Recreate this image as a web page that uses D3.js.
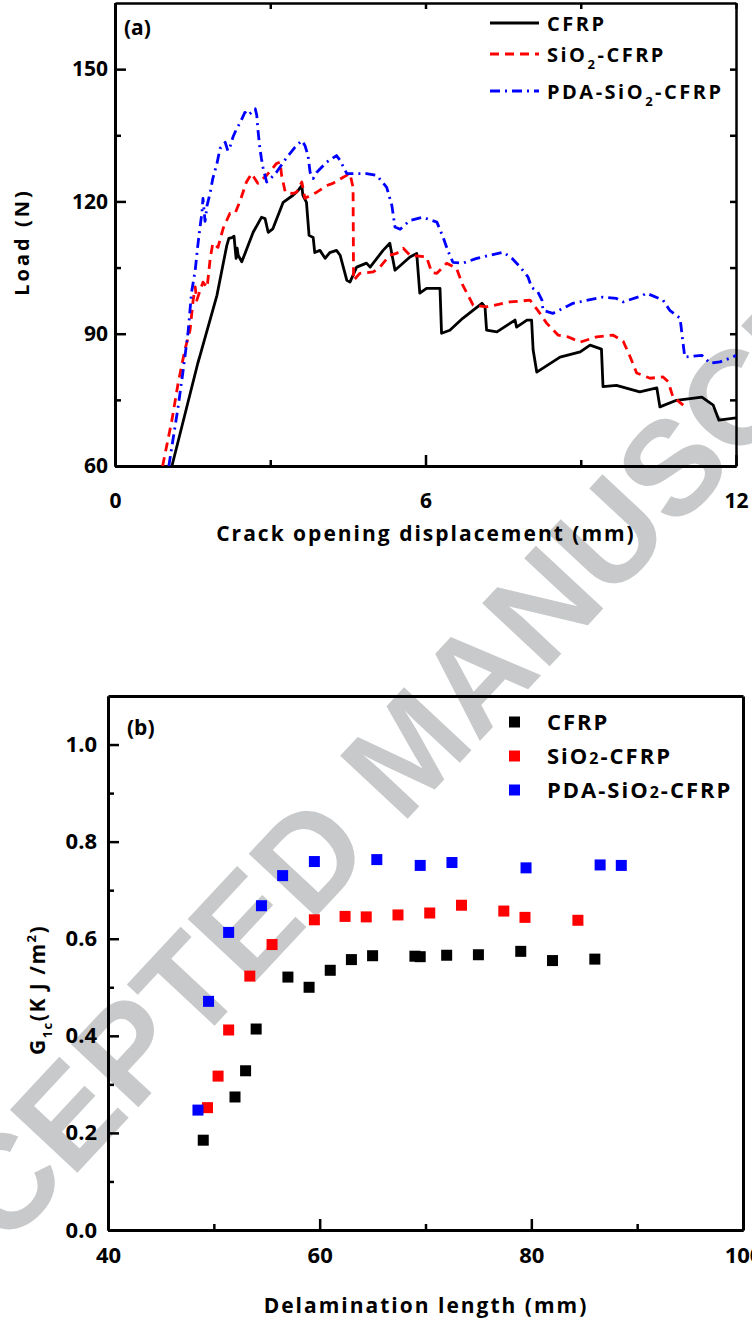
<!DOCTYPE html>
<html>
<head>
<meta charset="utf-8">
<script src="https://cdn.jsdelivr.net/npm/d3@7"></script>
<style>
  body { margin: 0; background: #fff; }
  svg text { font-family: "Open Sans", sans-serif; font-weight: bold; }
</style>
</head>
<body>
<svg id="chart" width="752" height="1321"></svg>
<script>
// ---- panel (a): load vs crack opening displacement ----
const cfrpX = [1.10,1.60,1.64,1.97,2.16,2.20,2.26,2.30,2.34,2.36,2.38,2.45,2.67,2.83,2.90,2.96,3.05,3.25,3.44,3.54,3.61,3.63,3.70,3.75,3.83,3.86,3.96,4.06,4.15,4.28,4.35,4.48,4.54,4.67,4.86,4.93,5.18,5.31,5.41,5.70,5.83,5.89,6.02,6.28,6.31,6.47,6.72,7.09,7.15,7.18,7.38,7.73,7.76,7.96,8.05,8.08,8.15,8.60,8.99,9.18,9.40,9.43,9.69,10.14,10.47,10.53,10.85,11.34,11.56,11.67,12.0];
const cfrpY = [60,83.3,84.9,98.7,110.0,111.6,111.8,112.1,107.1,109.4,107.8,106.3,113.0,116.4,116.1,113.0,113.8,119.8,121.4,122.5,123.6,121.4,119.8,112.3,111.8,108.4,108.9,107.1,108.4,108.9,107.8,102.1,101.7,105.1,106.0,105.1,108.9,110.5,104.4,107.4,108.2,99.2,100.3,100.3,90.1,90.8,93.5,96.9,96.1,90.8,90.4,93.1,91.5,93.1,93.1,86.3,81.3,84.7,85.9,87.4,86.5,78.0,78.3,76.8,77.7,73.4,74.9,75.6,73.8,70.4,70.9];

const sio2X = [0.92,1.10,1.22,1.35,1.45,1.51,1.55,1.58,1.70,1.78,1.84,1.89,1.99,2.09,2.22,2.32,2.42,2.54,2.64,2.76,2.93,3.12,3.19,3.22,3.29,3.44,3.51,3.61,3.67,3.90,4.09,4.21,4.41,4.54,4.60,4.61,4.73,4.99,5.12,5.31,5.44,5.57,5.70,6.02,6.12,6.22,6.41,6.60,6.72,6.92,7.18,7.63,8.02,8.17,8.34,8.56,8.75,8.99,9.31,9.62,9.82,9.95,10.08,10.34,10.59,10.69,10.78,10.98];
const sio2Y = [60,70.4,78.8,86.3,90.8,97.6,100.6,97.6,101.7,100.5,107.1,110.5,109.6,113.9,117.3,117.3,120.2,124.4,126.3,124.1,125.9,128.6,128.9,125.9,122.1,121.8,122.1,124.4,120.7,122.1,123.6,124.1,125.5,126.3,123.2,102.1,103.7,104.0,105.1,107.8,108.2,109.4,107.8,107.4,103.9,103.7,106.0,104.8,101.0,96.5,96.1,97.2,97.6,95.3,92.4,89.7,89.3,88.1,89.3,89.7,88.3,84.9,81.1,79.9,80.2,79.1,75.7,73.8];

const pdaX = [1.04,1.22,1.31,1.41,1.48,1.55,1.60,1.64,1.68,1.70,1.74,1.78,1.84,1.89,1.97,2.03,2.13,2.18,2.22,2.28,2.35,2.42,2.51,2.57,2.71,2.74,2.76,2.80,2.83,2.86,2.93,3.03,3.12,3.19,3.32,3.48,3.61,3.67,3.73,3.77,3.83,3.90,4.09,4.28,4.35,4.48,4.60,4.86,5.06,5.25,5.35,5.41,5.51,5.70,5.95,6.22,6.34,6.43,6.53,6.72,6.99,7.25,7.50,7.67,7.83,7.98,8.05,8.17,8.25,8.27,8.46,8.85,9.43,9.69,9.82,10.20,10.27,10.59,10.72,10.92,10.97,11.01,11.34,11.50,11.69,11.94,12.0];
const pdaY = [60,73.4,81.1,90.1,99.4,104.4,110.0,113.9,117.5,120.7,115.5,119.1,122.0,125.2,128.6,132.0,133.4,131.5,132.3,134.6,136.5,137.9,140.2,139.5,141.0,139.5,136.5,132.0,129.7,127.7,124.4,125.5,126.6,127.8,130.0,132.3,133.8,132.7,130.4,126.6,125.2,126.6,128.9,130.4,129.3,126.3,126.3,126.3,125.9,123.2,119.1,114.2,113.7,115.7,116.4,115.3,111.9,108.9,106.2,106.0,107.1,107.8,108.5,107.1,105.1,102.9,100.5,99.5,97.6,95.3,94.6,96.9,98.3,98.0,97.2,98.7,99.2,97.6,95.3,93.5,88.5,84.7,85.1,83.3,83.6,84.7,85.1];

const codTicks = [0, 6, 12];
const codMinor = [3, 9];
const loadTicks = [60, 90, 120, 150];
const loadMinor = [75, 105, 135];

// ---- panel (b): G1c vs delamination length ----
const cfrpLen = [49.0,52.0,53.0,54.0,57.0,59.0,61.0,63.0,65.0,69.0,69.5,72.0,75.0,79.0,82.0,86.0];
const cfrpG = [0.185,0.274,0.328,0.414,0.521,0.500,0.535,0.557,0.565,0.564,0.563,0.566,0.567,0.574,0.555,0.558];
const sio2Len = [49.4,50.4,51.4,53.4,55.5,59.5,62.4,64.4,67.4,70.4,73.4,77.4,79.4,84.4];
const sio2G = [0.252,0.317,0.412,0.523,0.588,0.639,0.646,0.645,0.649,0.653,0.669,0.657,0.644,0.638];
const pdaLen = [48.5,49.5,51.4,54.5,56.5,59.5,65.4,69.5,72.5,79.5,86.5,88.5];
const pdaG = [0.247,0.471,0.613,0.668,0.730,0.759,0.763,0.751,0.757,0.746,0.752,0.751];

const lenTicks = [40, 60, 80, 100];
const lenMinor = [50, 70, 90];
const gTicks = [0, 0.2, 0.4, 0.6, 0.8, 1.0];
const gMinor = [0.1, 0.3, 0.5, 0.7, 0.9];

const names = ["CFRP", "SiO2-CFRP", "PDA-SiO2-CFRP"];
const colors = ["#000000", "#ff0000", "#0000ff"];

var svg = d3.select("#chart");

// watermark behind everything
svg.append("text")
  .attr("transform", "translate(408,750) rotate(-47)")
  .attr("text-anchor", "middle")
  .attr("dominant-baseline", "central")
  .style("font-family", "'Liberation Sans', Arial, sans-serif")
  .attr("font-size", "134px")
  .attr("fill", "#c8c9ca")
  .text("ACCEPTED MANUSCRIPT");

// small helper to style an axis group
function styleAxis(g, width, fontSize) {
  g.attr("font-size", null).attr("font-family", null);
  g.select(".domain").attr("stroke", "#000").attr("stroke-width", width);
  g.selectAll(".tick line").attr("stroke", "#000").attr("stroke-width", 2.5);
  g.selectAll(".tick text").attr("fill", "#000").attr("font-size", fontSize);
}

// ================= panel (a) =================
const aLeft = 115, aRight = 736, aTop = 3, aBottom = 466;
var xA = d3.scaleLinear().domain([0, 12]).range([aLeft, aRight]);
var yA = d3.scaleLinear().domain([60, 165]).range([aBottom, aTop]);

var gA = svg.append("g");

// minor ticks first
gA.append("g").attr("transform", "translate(0," + aBottom + ")")
  .call(d3.axisBottom(xA).tickValues(codMinor).tickSize(-6).tickSizeOuter(0).tickFormat(""))
  .call(styleAxis, 3, "21px");
gA.append("g").attr("transform", "translate(" + aLeft + ",0)")
  .call(d3.axisLeft(yA).tickValues(loadMinor).tickSize(-6).tickSizeOuter(0).tickFormat(""))
  .call(styleAxis, 3, "21px");
gA.append("g").attr("transform", "translate(0," + aTop + ")")
  .call(d3.axisTop(xA).tickValues(codMinor.concat(codTicks)).tickSize(-6).tickSizeOuter(0).tickFormat(""))
  .call(styleAxis, 2.5, "21px");
gA.append("g").attr("transform", "translate(" + aRight + ",0)")
  .call(d3.axisRight(yA).tickValues(loadMinor.concat(loadTicks)).tickSize(-6).tickSizeOuter(0).tickFormat(""))
  .call(styleAxis, 2.5, "21px");

// major ticks with labels
gA.append("g").attr("transform", "translate(0," + aBottom + ")")
  .call(d3.axisBottom(xA).tickValues(codTicks).tickSize(-11).tickSizeOuter(0).tickPadding(27))
  .call(styleAxis, 3, "21px");
gA.append("g").attr("transform", "translate(" + aLeft + ",0)")
  .call(d3.axisLeft(yA).tickValues(loadTicks).tickSize(-11).tickSizeOuter(0).tickPadding(7))
  .call(styleAxis, 3, "21px");

// curves
var lineA = d3.line().x((d) => xA(d[0])).y((d) => yA(d[1]));
var curves = [d3.zip(cfrpX, cfrpY), d3.zip(sio2X, sio2Y), d3.zip(pdaX, pdaY)];
var dashes = [null, "9,6", "10,5,2,5"];

gA.selectAll(".curve")
  .data(curves)
  .enter()
  .append("path")
  .attr("class", "curve")
  .attr("d", lineA)
  .attr("fill", "none")
  .attr("stroke", (d, i) => colors[i])
  .attr("stroke-width", 2.8)
  .attr("stroke-dasharray", (d, i) => dashes[i])
  .attr("stroke-linejoin", "round");

// legend (a)
var legA = gA.append("g");
var legAY = [23, 54, 91];
legA.selectAll("line")
  .data(names)
  .enter()
  .append("line")
  .attr("x1", 490).attr("x2", 539)
  .attr("y1", (d, i) => legAY[i]).attr("y2", (d, i) => legAY[i])
  .attr("stroke", (d, i) => colors[i])
  .attr("stroke-width", 2.8)
  .attr("stroke-dasharray", (d, i) => dashes[i]);

legA.selectAll("text")
  .data(names)
  .enter()
  .append("text")
  .attr("x", 547)
  .attr("y", (d, i) => legAY[i] + 8)
  .attr("font-size", "20px")
  .attr("letter-spacing", "2.5px")
  .each(function (d) {
    var t = d3.select(this);
    var parts = d.split("2");
    if (parts.length == 1) { t.text(d); return; }
    t.append("tspan").text(parts[0]);
    t.append("tspan").attr("font-size", "13px").attr("dy", 7).text("2");
    t.append("tspan").attr("dy", -7).text(parts[1]);
  });

gA.append("text").attr("x", 124).attr("y", 35).attr("font-size", "21px").text("(a)");

gA.append("text")
  .attr("x", 426).attr("y", 541)
  .attr("text-anchor", "middle")
  .attr("font-size", "21px")
  .attr("letter-spacing", "2px")
  .text("Crack opening displacement (mm)");

gA.append("text")
  .attr("transform", "translate(29,242) rotate(-90)")
  .attr("text-anchor", "middle")
  .attr("font-size", "20px")
  .attr("letter-spacing", "3px")
  .text("Load (N)");

// ================= panel (b) =================
const bLeft = 108, bRight = 743, bTop = 696, bBottom = 1230;
var xB = d3.scaleLinear().domain([40, 100]).range([bLeft, bRight]);
var yB = d3.scaleLinear().domain([0, 1.1]).range([bBottom, bTop]);

var gB = svg.append("g");

gB.append("g").attr("transform", "translate(0," + bTop + ")")
  .call(d3.axisTop(xB).tickValues([]).tickSizeOuter(0))
  .call(styleAxis, 3, "22px");
gB.append("g").attr("transform", "translate(" + bRight + ",0)")
  .call(d3.axisRight(yB).tickValues([]).tickSizeOuter(0))
  .call(styleAxis, 3, "22px");
gB.append("g").attr("transform", "translate(0," + bBottom + ")")
  .call(d3.axisBottom(xB).tickValues(lenMinor).tickSize(-6).tickSizeOuter(0).tickFormat(""))
  .call(styleAxis, 3, "22px");
gB.append("g").attr("transform", "translate(" + bLeft + ",0)")
  .call(d3.axisLeft(yB).tickValues(gMinor).tickSize(-6).tickSizeOuter(0).tickFormat(""))
  .call(styleAxis, 3, "22px");
gB.append("g").attr("transform", "translate(0," + bBottom + ")")
  .call(d3.axisBottom(xB).tickValues(lenTicks).tickSize(-11).tickSizeOuter(0).tickPadding(17))
  .call(styleAxis, 3, "22px");
gB.append("g").attr("transform", "translate(" + bLeft + ",0)")
  .call(d3.axisLeft(yB).tickValues(gTicks).tickSize(-11).tickSizeOuter(0).tickPadding(11).tickFormat(d3.format(".1f")))
  .call(styleAxis, 3, "22px");

// scatter squares
var pts = [d3.zip(cfrpLen, cfrpG), d3.zip(sio2Len, sio2G), d3.zip(pdaLen, pdaG)];
const sq = 11;
pts.forEach(function (series, k) {
  gB.append("g")
    .selectAll("rect")
    .data(series)
    .enter()
    .append("rect")
    .attr("x", (d) => xB(d[0]) - sq / 2)
    .attr("y", (d) => yB(d[1]) - sq / 2)
    .attr("width", sq)
    .attr("height", sq)
    .attr("fill", colors[k]);
});

// legend (b)
var legBY = [722, 756, 790];
var legB = gB.append("g");
legB.selectAll("rect")
  .data(names)
  .enter()
  .append("rect")
  .attr("x", 509).attr("y", (d, i) => legBY[i] - sq / 2)
  .attr("width", sq).attr("height", sq)
  .attr("fill", (d, i) => colors[i]);
legB.selectAll("text")
  .data(names)
  .enter()
  .append("text")
  .attr("x", 547)
  .attr("y", (d, i) => legBY[i] + 8)
  .attr("font-size", "22px")
  .attr("letter-spacing", "2px")
  .each(function (d) {
    var t = d3.select(this);
    var parts = d.split("2");
    if (parts.length == 1) { t.text(d); return; }
    t.append("tspan").text(parts[0]);
    t.append("tspan").attr("font-size", "16px").text("2");
    t.append("tspan").text(parts[1]);
  });

gB.append("text").attr("x", 127).attr("y", 735).attr("font-size", "21px").text("(b)");

gB.append("text")
  .attr("x", 426).attr("y", 1313)
  .attr("text-anchor", "middle")
  .attr("font-size", "21px")
  .attr("letter-spacing", "2px")
  .text("Delamination length (mm)");

var gl = gB.append("text")
  .attr("transform", "translate(45,990) rotate(-90)")
  .attr("text-anchor", "middle")
  .attr("font-size", "21px")
  .attr("letter-spacing", "1.5px");
gl.append("tspan").text("G");
gl.append("tspan").attr("font-size", "13px").attr("dy", 7).text("1c");
gl.append("tspan").attr("dy", -7).text("(K J /m");
gl.append("tspan").attr("font-size", "13px").attr("dy", -9).text("2");
gl.append("tspan").attr("dy", 9).text(")");
</script>
</body>
</html>
